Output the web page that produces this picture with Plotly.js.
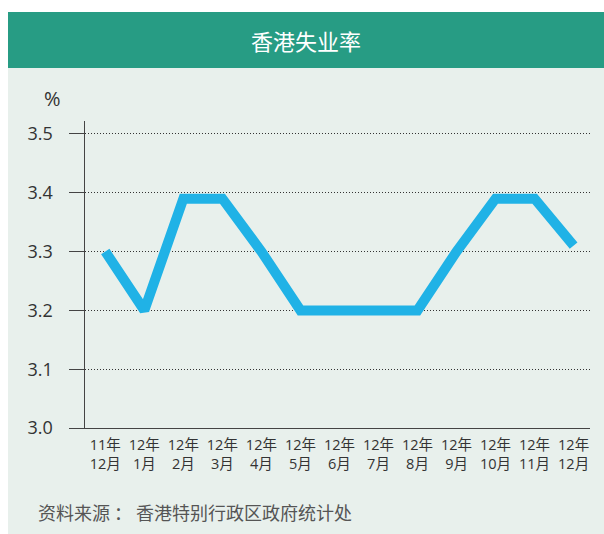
<!DOCTYPE html>
<html>
<head>
<meta charset="utf-8">
<script src="https://cdn.plot.ly/plotly-3.0.1.min.js"></script>
<style>html,body{margin:0;padding:0;background:#fff;}#chart{width:604px;height:534px;}</style>
</head>
<body>
<div id="chart"></div>
<script>
const yearLabels = ["11年","12年","12年","12年","12年","12年","12年","12年","12年","12年","12年","12年","12年"];
const monthLabels = ["12月","1月","2月","3月","4月","5月","6月","7月","8月","9月","10月","11月","12月"];
const rates = [3.3, 3.2, 3.39, 3.39, 3.3, 3.2, 3.2, 3.2, 3.2, 3.3, 3.39, 3.39, 3.31];
const yTicks = [3.0, 3.1, 3.2, 3.3, 3.4, 3.5];

const W = 604, H = 534;
const px = x => x / W;
const py = y => (H - y) / H;
const idx = rates.map((_, i) => i);
const tickText = yearLabels.map((y, i) => y + "<br>" + monthLabels[i]);
const FONT = "Open Sans, Noto Sans CJK SC, sans-serif";
const CJK = "Noto Sans CJK SC, sans-serif";

const data = [{
  x: idx, y: rates, type: "scatter", mode: "lines",
  line: {color: "#20b2e6", width: 10},
  hoverinfo: "none"
}];

const layout = {
  width: W, height: H,
  margin: {l: 0, r: 0, t: 0, b: 0},
  paper_bgcolor: "#ffffff",
  plot_bgcolor: "rgba(0,0,0,0)",
  showlegend: false,
  font: {family: FONT, color: "#333"},
  xaxis: {
    domain: [px(85), px(590)],
    range: [-0.52, 12.42],
    tickvals: idx, ticktext: tickText,
    showgrid: false, zeroline: false,
    showline: true, linecolor: "#444", linewidth: 1,
    ticks: "", ticklabelstandoff: 4,
    tickfont: {size: 14.5, color: "#333", family: FONT},
    fixedrange: true
  },
  yaxis: {
    domain: [py(428), py(121)],
    range: [3.0, 3.522],
    tickvals: yTicks, ticktext: yTicks.map(v => v.toFixed(1) + "\u00a0"),
    showgrid: true, gridcolor: "#333", gridwidth: 1, griddash: "1px,2px",
    zeroline: false,
    showline: true, linecolor: "#444", linewidth: 1,
    ticks: "outside", ticklen: 15, tickcolor: "#444", tickwidth: 1,
    ticklabelstandoff: 8,
    tickfont: {size: 18, color: "#333", family: FONT},
    fixedrange: true
  },
  shapes: [
    {type: "rect", xref: "paper", yref: "paper", x0: px(8), x1: 1, y0: 0, y1: py(68),
     fillcolor: "#e8f0ec", line: {width: 0}, layer: "below"},
    {type: "rect", xref: "paper", yref: "paper", x0: px(8), x1: 1, y0: py(68), y1: py(12),
     fillcolor: "#279c84", line: {width: 0}, layer: "below"}
  ],
  annotations: [
    {text: "香港失业率", xref: "paper", yref: "paper", x: px(306), y: py(40),
     xanchor: "center", yanchor: "middle", showarrow: false,
     font: {size: 22, color: "#ffffff", family: CJK}},
    {text: "%", xref: "paper", yref: "paper", x: px(52), y: py(98),
     xanchor: "center", yanchor: "middle", showarrow: false,
     font: {size: 20, color: "#333", family: FONT}},
    {text: "资料来源 ： 香港特别行政区政府统计处", xref: "paper", yref: "paper", x: px(36), y: py(512),
     xanchor: "left", yanchor: "middle", showarrow: false,
     font: {size: 18, color: "#555", family: CJK}}
  ]
};

Plotly.newPlot("chart", data, layout, {displayModeBar: false, staticPlot: true});
</script>
</body>
</html>
